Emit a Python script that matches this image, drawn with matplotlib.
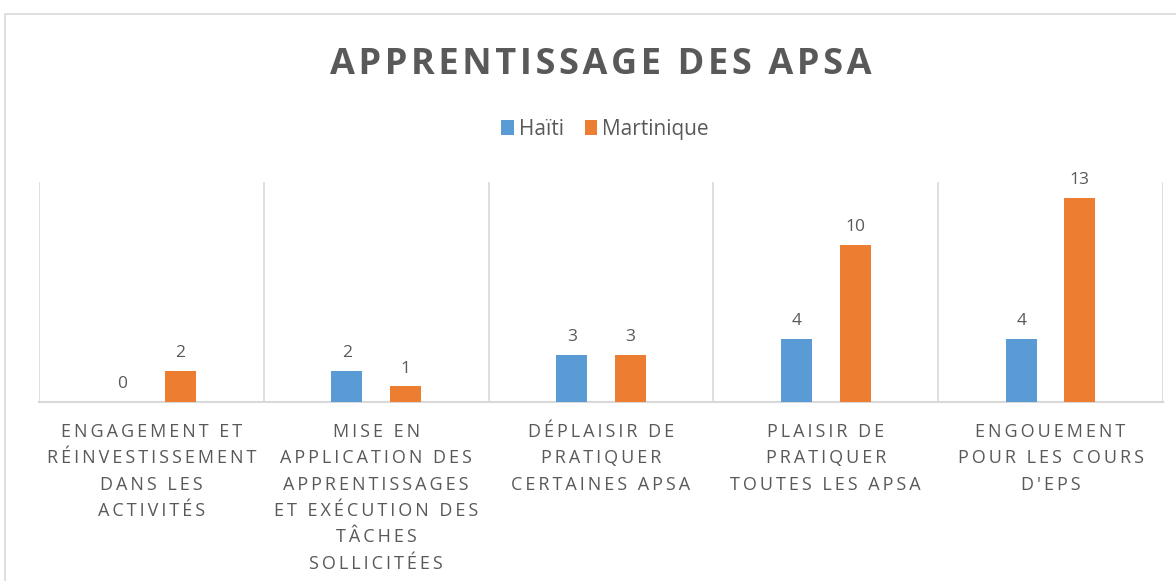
import matplotlib
matplotlib.use("Agg")
import matplotlib.pyplot as plt
import numpy as np
from matplotlib.patches import Rectangle

categories = [
    "ENGAGEMENT ET\nRÉINVESTISSEMENT\nDANS LES\nACTIVITÉS",
    "MISE EN\nAPPLICATION DES\nAPPRENTISSAGES\nET EXÉCUTION DES\nTÂCHES\nSOLLICITÉES",
    "DÉPLAISIR DE\nPRATIQUER\nCERTAINES APSA",
    "PLAISIR DE\nPRATIQUER\nTOUTES LES APSA",
    "ENGOUEMENT\nPOUR LES COURS\nD'EPS",
]
haiti = [0, 2, 3, 4, 4]
martinique = [2, 1, 3, 10, 13]
series_names = ["Haïti", "Martinique"]
title = "APPRENTISSAGE DES APSA"

BLUE = "#5B9BD5"
ORANGE = "#ED7D31"
TXT = "#595959"
GRID = "#D9D9D9"
FAM = ["Open Sans", "DejaVu Sans"]

def spaced(s, sp="\u200a"):
    return "\n".join(sp.join(list(line)) for line in s.split("\n"))

W, H = 1176, 581
fig = plt.figure(figsize=(W / 100, H / 100), dpi=100)
fig.patch.set_facecolor("white")

# chart border
fig.add_artist(Rectangle((5 / W, -0.1), 1.2, (H - 14) / H + 0.1, transform=fig.transFigure,
                         fill=False, edgecolor=GRID, linewidth=1.2))

ax = fig.add_axes([39 / W, (H - 402) / H, (1163 - 39) / W, (402 - 182) / H])
x = np.arange(len(categories))
bw = 0.138
off = 0.13
b1 = ax.bar(x - off, haiti, bw, color=BLUE, label=series_names[0], zorder=3)
b2 = ax.bar(x + off, martinique, bw, color=ORANGE, label=series_names[1], zorder=3)
for bars, vals in ((b1, haiti), (b2, martinique)):
    for r, v in zip(bars, vals):
        ax.annotate(str(v), (r.get_x() + r.get_width() / 2, v), xytext=(0, 7),
                    textcoords="offset points", ha="center", va="bottom",
                    fontsize=12.5, color=TXT, family=FAM)

ax.set_xlim(-0.5, len(categories) - 0.5)
ax.set_ylim(0, 14)
ax.set_yticks([])
for b in np.arange(-0.5, len(categories), 1.0):
    ax.axvline(b, color=GRID, lw=1.2, zorder=1)
for s in ["top", "right", "left"]:
    ax.spines[s].set_visible(False)
ax.spines["bottom"].set_color(GRID)
ax.spines["bottom"].set_linewidth(1.5)
ax.set_xticks(x)
ax.set_xticklabels([spaced(c, "\u2009") for c in categories], fontsize=13, color=TXT,
                   family=FAM, linespacing=1.6, va="top")
ax.tick_params(axis="x", length=0, pad=15)

fig.text(601 / W, 1 - 65 / H, spaced(title, "\u200a"), ha="center", va="center",
         fontsize=26, fontweight="bold", color=TXT, family=FAM)

leg = fig.legend(handles=[b1, b2], labels=series_names, loc="center",
                 bbox_to_anchor=(605 / W, 1 - 129 / H), ncol=2, frameon=False,
                 prop={"family": FAM, "size": 15}, handlelength=0.6, handleheight=0.75,
                 handletextpad=0.25, columnspacing=1.0)
for t in leg.get_texts():
    t.set_color(TXT)

fig.savefig("out.png", dpi=100, facecolor="white")
